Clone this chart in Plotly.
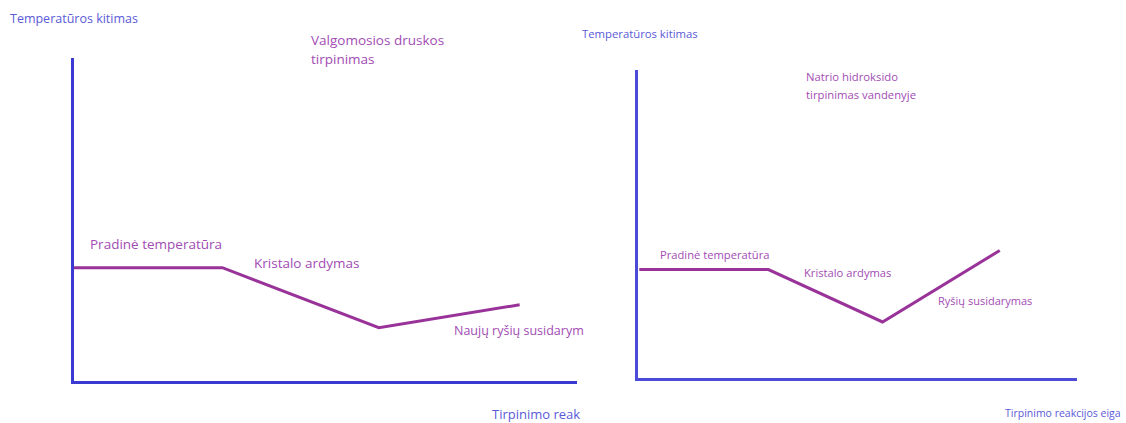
import plotly.graph_objects as go

W, H = 1126, 423

# reaction progress (0-100) and temperature (0-100), schematic
salt_x = [0, 29.5, 60.6, 88.6]
salt_y = [35.1, 35.1, 16.5, 23.6]

naoh_x = [0.3, 29.7, 55.7, 82.4]
naoh_y = [35.2, 35.2, 18.2, 41.4]

axis_blue = "#3a3ad2"
purple = "#993399"
txt_purple = "#a24cb4"
txt_blue = "#5a5ad8"
FONT = "Open Sans"


def px(x):
    return x / W


def py(y):
    return 1 - y / H


fig = go.Figure()

fig.add_trace(go.Scatter(x=salt_x, y=salt_y, mode="lines",
                         line=dict(color=purple, width=3),
                         xaxis="x", yaxis="y", hoverinfo="skip"))
fig.add_trace(go.Scatter(x=naoh_x, y=naoh_y, mode="lines",
                         line=dict(color=purple, width=3),
                         xaxis="x2", yaxis="y2", hoverinfo="skip"))

ax = dict(showgrid=False, zeroline=False, showticklabels=False, ticks="",
          showline=True, linecolor=axis_blue, linewidth=3, range=[0, 100],
          fixedrange=True)

fig.update_layout(
    width=W, height=H,
    margin=dict(l=0, r=0, t=0, b=0),
    paper_bgcolor="white", plot_bgcolor="white",
    showlegend=False,
    xaxis=dict(ax, domain=[px(74), px(577)], anchor="y"),
    yaxis=dict(ax, domain=[py(381), py(58)], anchor="x"),
    xaxis2=dict(ax, domain=[px(638), px(1077)], anchor="y2",
                linecolor="#4b4bd8"),
    yaxis2=dict(ax, domain=[py(378), py(70)], anchor="x2",
                linecolor="#4b4bd8"),
)

labels = [
    # text, x px, y px, size, colour
    ("Temperatūros kitimas", 8, 19, 12.5, txt_blue),
    ("Valgomosios druskos", 309, 40, 13.5, txt_purple),
    ("tirpinimas", 309, 59, 13.5, txt_purple),
    ("Pradinė temperatūra", 88, 244, 13.5, txt_purple),
    ("Kristalo ardymas", 252, 263, 13.5, txt_purple),
    ("Naujų ryšių susidarym", 452, 330, 12.5, txt_purple),
    ("Tirpinimo reak", 490, 414, 13, txt_blue),
    ("Temperatūros kitimas", 580, 33, 11.3, txt_blue),
    ("Natrio hidroksido", 804, 76, 11.3, txt_purple),
    ("tirpinimas vandenyje", 804, 94, 11.3, txt_purple),
    ("Pradinė temperatūra", 658, 254, 11.2, txt_purple),
    ("Kristalo ardymas", 802, 272, 11.2, txt_purple),
    ("Ryšių susidarymas", 936, 300, 11, txt_purple),
    ("Tirpinimo reakcijos eiga", 1003, 413, 10.5, txt_blue),
]

for t, x, y, s, c in labels:
    fig.add_annotation(text=t, x=px(x), y=py(y), xref="paper", yref="paper",
                       xanchor="left", yanchor="middle", showarrow=False,
                       font=dict(family=FONT, size=s, color=c))

fig.write_html("out.html", config={"displayModeBar": False},
               post_script="document.body.style.margin='0';")
